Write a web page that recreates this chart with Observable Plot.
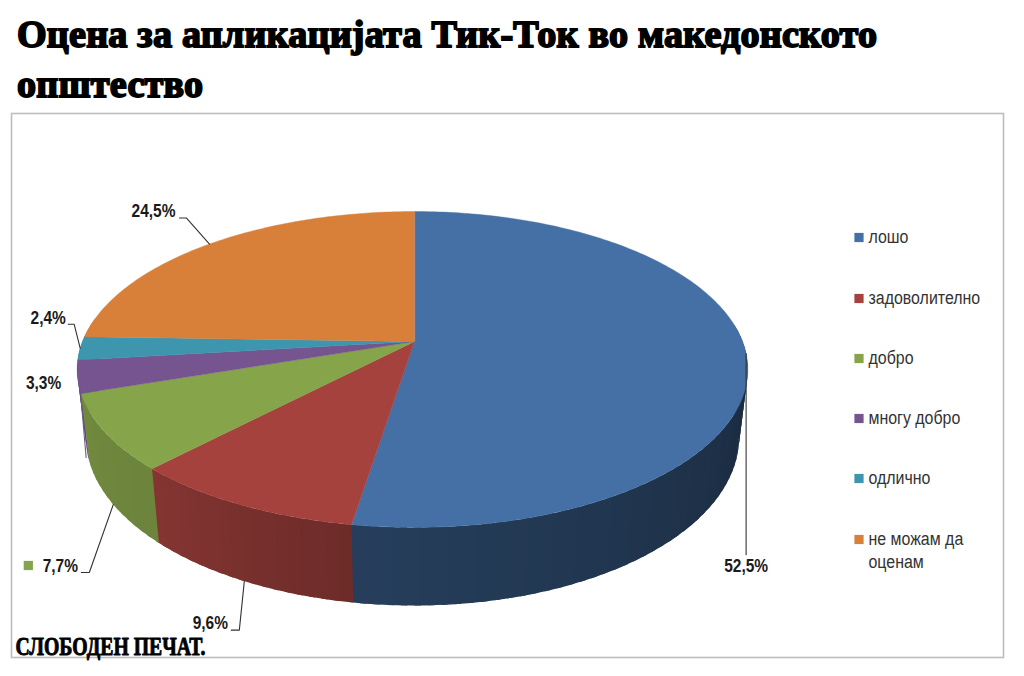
<!DOCTYPE html>
<html><head><meta charset="utf-8">
<script src="https://cdn.jsdelivr.net/npm/d3@7"></script>
<script src="https://cdn.jsdelivr.net/npm/@observablehq/plot@0.6"></script>
<style>
html,body{margin:0;padding:0;background:#fff;overflow:hidden}
#title{position:absolute;left:17px;top:9px;width:960px;margin:0;font:900 38.15px/50px "Liberation Serif",serif;color:#000;-webkit-text-stroke:1.8px #000;letter-spacing:.2px}
#chart{position:absolute;left:0;top:112px}
</style></head><body>
<h1 id="title">Оцена за апликацијата Тик-Ток во македонското општество</h1>
<div id="chart"></div>
<script>
const categories = ["лошо","задоволително","добро","многу добро","одлично","не можам да оценам"];
const values = [52.5,9.6,7.7,3.3,2.4,24.5];
const valueLabels = ["52,5%","9,6%","7,7%","3,3%","2,4%","24,5%"];
const colors = ["#4470a5","#a5423e","#86a44a","#75548f","#3d96ae","#d8803a"];

// layout
const W=1024,H=564,UX=332,UY=153,K=0.177,X0=414,Y0=229;
const lowScale=0.974, lowYScale=1.065, lowDrop=66/UY;
const total=d3.sum(values);
const topRim=(a)=>{const s=Math.sin(a),c=-Math.cos(a),d=1-K*c;return [(s>0?.988:1)*s/d,-c/d];};
const lowRim=(a)=>{const [u,v]=topRim(a);return [u*lowScale,v*lowYScale-lowDrop];};
let acc=0;
const slices=values.map((v,i)=>{const a0=acc/total*2*Math.PI;acc+=v;const a1=acc/total*2*Math.PI;return {i,a0,a1,mid:(a0+a1)/2};});

const shadeStops=d3.scaleLinear().domain([0,90,189,189.01,223,250,360].map(d=>d*Math.PI/180)).range([.34,.36,.56,.66,.8,.84,.84]).clamp(true);
const backSlices=slices.filter(s=>s.i>=3).reverse(); // painted first: farther from the viewer
const frontSlices=slices.filter(s=>s.i<3);
const sidePts=[];let qid=0;
for(const s of [...backSlices,...frontSlices]){
  const n=Math.max(1,Math.ceil((s.a1-s.a0)/(Math.PI/90)));
  for(let j=0;j<n;j++){
    const a=s.a0+(s.a1-s.a0)*j/n,b=s.a0+(s.a1-s.a0)*(j+1)/n,e=Math.min(s.a0+(s.a1-s.a0)*(j+1.5)/n,s.a1+.012);
    const m=Math.cos((a+b)/2);
    if(m>0.12) continue;
    const f=shadeStops((a+b)/2);
    const col=d3.rgb(colors[s.i]);
    const fill=d3.rgb(col.r*f,col.g*f,col.b*f).formatHex();
    const rimSteps=[0,.5,1].map(t=>a+(e-a)*t);
    [...rimSteps.map(topRim),...rimSteps.reverse().map(lowRim)].forEach(p=>sidePts.push({q:qid,u:p[0],v:p[1],fill}));
    qid++;
  }
}
const topPts=[];
for(const s of slices){
  topPts.push({q:s.i,u:0,v:0,fill:colors[s.i]});
  const n=Math.ceil((s.a1-s.a0)/(Math.PI/180));
  for(let j=0;j<=n;j++){const p=topRim(s.a0+(s.a1-s.a0)*j/n);topPts.push({q:s.i,u:p[0],v:p[1],fill:colors[s.i]});}
}
const ux=px=>(px-X0)/UX, uy=py=>-(py-Y0)/UY;
const leader=[];
const addLeader=(id,pts)=>pts.forEach(p=>leader.push({id,u:p[0],v:p[1]}));
const rim=(i,side)=>side?lowRim(slices[i].mid):topRim(slices[i].mid);
const off=(p,dx,dy)=>[p[0]+dx/UX,p[1]-dy/UY];
const p0=rim(0,false); addLeader(0,[p0,off(p0,0,201)]);
const p1=rim(1,true);  addLeader(1,[p1,off(p1,-5,49),off(p1,-13,49)]);
const p2=rim(2,true);  addLeader(2,[p2,off(p2,-24,68),off(p2,-32,68)]);
const p4=rim(4,false); addLeader(4,[p4,off(p4,-6,-24),off(p4,-12,-24)]);
const p5=rim(5,false); addLeader(5,[p5,off(p5,-23,-26),off(p5,-30,-26)]);
const p3=topRim(slices[2].a1); addLeader(3,[off(p3,-.5,0),off(p3,5,64)]);

const lab=(t,p)=>({t,u:p[0],v:p[1]});
const labelPts=[
  lab(valueLabels[0],off(p0,0,213)),
  lab(valueLabels[1],off(p1,-34,42)),
  lab(valueLabels[2],off(p2,-53,62)),
  lab(valueLabels[3],off(rim(3,false),-34,7)),
  lab(valueLabels[4],off(p4,-32,-30)),
  lab(valueLabels[5],off(p5,-56,-33))
];
const legendRows=[125,186,246,306,366,427];
const legendData=categories.map((c,i)=>({c,i,u:ux(854+4.5),v:uy(legendRows[i]),tu:ux(868),lines:c==="не можам да оценам"?"не можам да\nоценам":c,fill:colors[i]}));
const lg3=off(p2,-85,61);

const chart=Plot.plot({
  width:W,height:H,marginLeft:11,marginRight:21,marginTop:1,marginBottom:19,
  x:{domain:[(11-X0)/UX,(1003-X0)/UX],axis:null},
  y:{domain:[-(545-Y0)/UY,(Y0-1)/UY],axis:null},
  color:{type:"identity"},
  style:{background:"transparent",overflow:"visible"},
  marks:[
    Plot.frame({stroke:"#bdbdbd",strokeWidth:1.6}),
    Plot.line(sidePts,{x:"u",y:"v",z:"q",fill:"fill",stroke:null,curve:"linear-closed"}),
    Plot.line(topPts,{x:"u",y:"v",z:"q",fill:"fill",stroke:"fill",strokeWidth:.4,curve:"linear-closed"}),
    Plot.line(leader,{x:"u",y:"v",z:"id",stroke:d=>d.id===3?"#6b5b86":"#333",strokeWidth:1.1}),
    Plot.text(labelPts,{x:"u",y:"v",text:"t",className:"n86",fill:"#1a1a1a",fontSize:18,fontWeight:700,fontFamily:"Liberation Sans, sans-serif"}),
    Plot.dot(legendData,{x:"u",y:"v",symbol:"square",r:5.2,fill:"fill",stroke:null}),
    Plot.text(legendData,{x:"tu",y:"v",text:"lines",className:"n88",textAnchor:"start",lineAnchor:"top",dy:-11,lineHeight:1.28,fill:"#333",fontSize:18,fontFamily:"Liberation Sans, sans-serif"}),
    Plot.dot([{u:lg3[0],v:lg3[1]}],{x:"u",y:"v",symbol:"square",r:5.2,fill:colors[2],stroke:null}),
    Plot.text(["СЛОБОДЕН ПЕЧАТ."],{x:ux(15),y:uy(534),text:d=>d,className:"n76",textAnchor:"start",fill:"#000",fontSize:25,fontWeight:900,fontFamily:"Liberation Serif, serif",stroke:"#000",strokeWidth:.9})
  ]
});
document.getElementById("chart").appendChild(chart);
// condense the text horizontally: the original uses narrow typefaces
[["n86",.86],["n88",.885],["n76",.79]].forEach(([c,r])=>{
  d3.select(chart).selectAll(`g.${c} text`).each(function(){
    const spans=this.querySelectorAll("tspan");
    (spans.length?[...spans]:[this]).forEach(el=>{
      el.setAttribute("textLength",el.getComputedTextLength()*r);
      el.setAttribute("lengthAdjust","spacingAndGlyphs");
    });
  });
});
</script>
</body></html>
